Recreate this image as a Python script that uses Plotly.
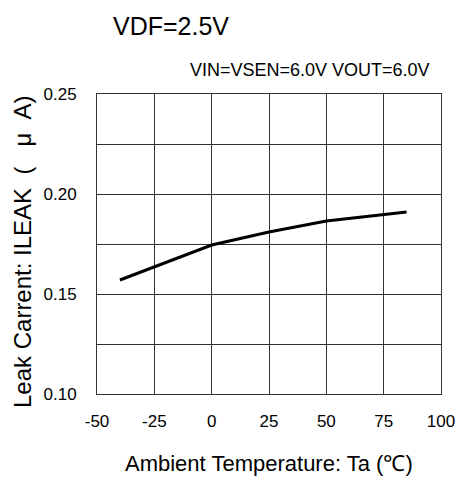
import plotly.graph_objects as go

temps = [-40, 0, 25, 50, 85]
leak = [0.157, 0.1745, 0.181, 0.1865, 0.191]
x_ticks = [-50, -25, 0, 25, 50, 75, 100]
y_ticks = [0.10, 0.125, 0.15, 0.175, 0.20, 0.225, 0.25]
y_labels = ["0.10", "", "0.15", "", "0.20", "", "0.25"]

fig = go.Figure()
fig.add_trace(go.Scatter(x=temps, y=leak, mode="lines",
                         line=dict(color="black", width=3), showlegend=False))

font = "Liberation Sans, Arial, sans-serif"
grid = "#333"
fig.update_layout(
    width=459, height=483,
    margin=dict(l=97, r=18, t=94, b=89),
    paper_bgcolor="white", plot_bgcolor="white",
    font=dict(family=font, color="black"),
    xaxis=dict(range=[-50, 100], tickvals=x_ticks, ticktext=[str(v) for v in x_ticks],
               showgrid=True, gridcolor=grid, gridwidth=1,
               showline=True, linecolor=grid, mirror=True, zeroline=False,
               tickfont=dict(size=17), ticks="outside", ticklen=12,
               tickcolor="rgba(0,0,0,0)", automargin=False),
    yaxis=dict(range=[0.10, 0.25], tickvals=y_ticks, ticktext=y_labels,
               showgrid=True, gridcolor=grid, gridwidth=1,
               showline=True, linecolor=grid, mirror=True, zeroline=False,
               tickfont=dict(size=17), ticks="outside", ticklen=16,
               tickcolor="rgba(0,0,0,0)", automargin=False),
)

fig.add_annotation(text="VDF=2.5V", xref="paper", yref="paper", x=0.04, y=1.0,
                   yshift=68, xanchor="left", yanchor="middle", showarrow=False,
                   font=dict(size=25, family=font))
fig.add_annotation(text="VIN=VSEN=6.0V VOUT=6.0V", xref="paper", yref="paper", x=0.974, y=1.0,
                   yshift=24, xanchor="right", yanchor="middle", showarrow=False,
                   font=dict(size=18, family=font))
fig.add_annotation(text="Ambient Temperature: Ta (℃)", xref="paper", yref="paper", x=0.5, y=0,
                   yshift=-69, xanchor="center", yanchor="middle", showarrow=False,
                   font=dict(size=22, family=font))
fig.add_annotation(text="Leak Carrent: ILEAK\u00a0 (\u00a0\u00a0\u00a0μ\u00a0\u00a0A)", xref="paper", yref="paper",
                   x=0, y=0.5, xshift=-75, yshift=-8, xanchor="center", yanchor="middle",
                   textangle=-90, showarrow=False, font=dict(size=24, family=font))

fig.write_html("out.html", config={"displayModeBar": False},
               post_script="document.body.style.margin='0';")
